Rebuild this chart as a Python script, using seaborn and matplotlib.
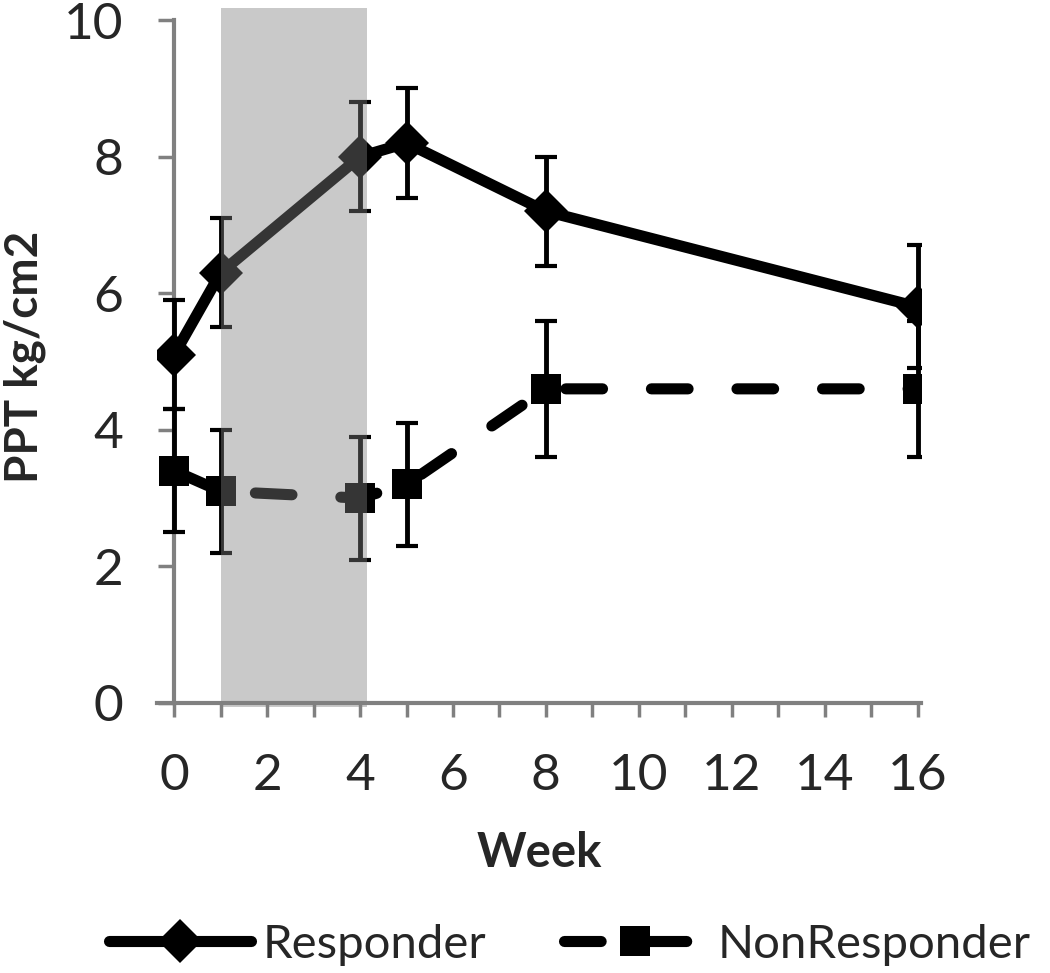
import matplotlib
matplotlib.use('Agg')
import matplotlib.pyplot as plt
import seaborn as sns
import pandas as pd

# values
weeks = [0, 1, 4, 5, 8, 16]
responder = [5.1, 6.3, 8.0, 8.2, 7.2, 5.8]
responder_err = [0.8, 0.8, 0.8, 0.8, 0.8, 0.9]
nonresponder = [3.4, 3.1, 3.0, 3.2, 4.6, 4.6]
nonresponder_err = [0.9, 0.9, 0.9, 0.9, 1.0, 1.0]
shade_weeks = [1, 4.15]
shade_low, shade_high = -0.06, 10.17
xticks = [0, 2, 4, 6, 8, 10, 12, 14, 16]
xminor = list(range(0, 17))
yticks = [0, 2, 4, 6, 8, 10]

sns.set_style('white')
plt.rcParams['font.family'] = ['Lato', 'DejaVu Sans']

df = pd.DataFrame({'Week': weeks, 'Responder': responder, 'NonResponder': nonresponder})

fig = plt.figure(figsize=(10.5, 9.73), dpi=100)
ax = fig.add_axes([0.1495, 0.2705, 0.7276, 0.7264])

sns.lineplot(data=df, x='Week', y='Responder', ax=ax, color='black', lw=8,
             marker='D', markersize=22, markeredgewidth=0,
             solid_capstyle='round', solid_joinstyle='round',
             label='Responder', zorder=3)
sns.lineplot(data=df, x='Week', y='NonResponder', ax=ax, color='black', lw=8,
             marker='s', markersize=22, markeredgewidth=0,
             linestyle=(0, (3.3, 4.4)), dash_capstyle='round',
             label='NonResponder', zorder=3)

ax.errorbar(weeks, responder, yerr=responder_err, fmt='none', ecolor='black',
            elinewidth=3.5, capsize=8, capthick=3, zorder=4)
ax.errorbar(weeks, nonresponder, yerr=nonresponder_err, fmt='none', ecolor='black',
            elinewidth=3.5, capsize=8, capthick=3, zorder=4)

# shaded treatment period, drawn on top like in the original
ax.fill_between(shade_weeks, shade_low, shade_high, color='0.5', alpha=0.42,
                lw=0, zorder=10)

ax.set_xlim(-0.37, 16.07)
ax.set_ylim(-0.1, 10.25)

for s in ['top', 'right']:
    ax.spines[s].set_visible(False)
for s in ['left', 'bottom']:
    ax.spines[s].set_color('#808080')
    ax.spines[s].set_linewidth(3)
    ax.spines[s].set_position(('data', 0))
ax.spines['left'].set_bounds(0, 10)

ax.set_xticks(xticks)
ax.set_xticks(xminor, minor=True)
ax.set_yticks(yticks)
ax.tick_params(axis='x', which='both', bottom=True, direction='out', length=10,
               width=2.5, color='#808080', pad=26, labelsize=37)
ax.tick_params(axis='y', left=True, direction='out', length=11.5, width=2.5,
               color='#808080', pad=25, labelsize=37)

ax.set_xlabel('Week', fontsize=34, fontweight='bold', labelpad=23)
ax.set_ylabel('PPT kg/cm2', fontsize=33, fontweight='bold', labelpad=13)

ax.legend(loc='center', bbox_to_anchor=(0.543, 0.029), bbox_transform=fig.transFigure,
          ncol=2, frameon=False, fontsize=34, handlelength=3.0,
          handletextpad=0.25, columnspacing=1.65)

fig.savefig('out.png', dpi=100)
